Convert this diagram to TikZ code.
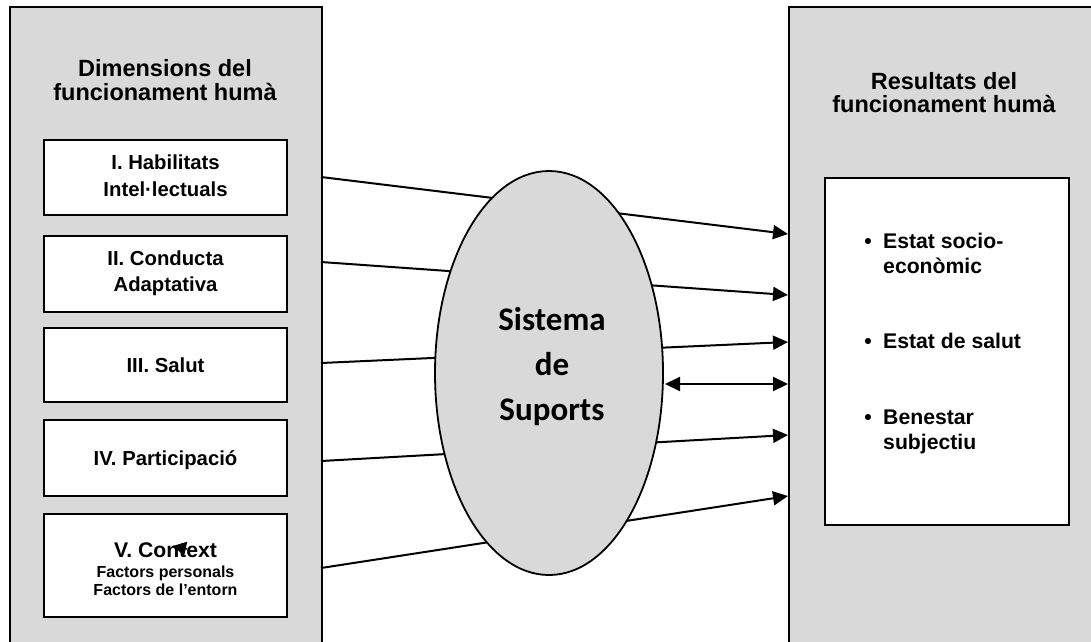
\documentclass[tikz,border=0pt]{standalone}
\usepackage{fontspec}
\setmainfont{Liberation Sans}
\newfontfamily\ellfont{Carlito}
\usetikzlibrary{arrows.meta,shapes.geometric}
\definecolor{panelgray}{HTML}{D9D9D9}
\begin{document}
\begin{tikzpicture}[x=1pt,y=-1pt,
  panel/.style={draw=black, fill=panelgray, line width=1.8pt, anchor=north west,
    inner sep=0pt, minimum width=312pt, minimum height=700pt},
  dimbox/.style={draw=black, fill=white, line width=1.8pt, inner sep=0pt, minimum width=243pt},
  resbox/.style={draw=black, fill=white, line width=1.8pt, anchor=north west, inner sep=0pt,
    minimum width=244pt, minimum height=347pt},
  title/.style={anchor=base, inner sep=0pt, font=\fontsize{23.5}{24}\selectfont\bfseries},
  boxtext/.style={anchor=base, inner sep=0pt, font=\fontsize{20.3}{24}\selectfont\bfseries},
  smalltext/.style={anchor=base, inner sep=0pt, font=\fontsize{16}{18}\selectfont\bfseries},
  bullettext/.style={anchor=base west, inner sep=0pt, font=\fontsize{21.2}{24}\selectfont\bfseries},
  dot/.style={anchor=base, inner sep=0pt, font=\fontsize{21.2}{24}\selectfont\bfseries},
  suptext/.style={anchor=base, inner sep=0pt, font=\fontsize{33}{40}\selectfont\ellfont\bfseries},
  conn/.style={line width=2pt, -{Triangle[length=15pt,width=14pt]}},
  biconn/.style={line width=2pt, {Triangle[length=15pt,width=14pt]}-{Triangle[length=15pt,width=14pt]}}
]
\clip (0,0) rectangle (1091,641);

% the two side panels
\node[panel] (lp) at (9,6) {};
\node[panel] (rp) at (788,6) {};

% the five dimensions
\node[dimbox, minimum height=75pt] (b1) at (165.5,177.5) {};
\node[dimbox, minimum height=76pt] (b2) at (165.5,274) {};
\node[dimbox, minimum height=74pt] (b3) at (165.5,365) {};
\node[dimbox, minimum height=76pt] (b4) at (165.5,458) {};
\node[dimbox, minimum height=103pt] (b5) at (165.5,565.5) {};

% the outcomes box
\node[resbox] (res) at (824,177) {};

% connectors between the panels
\coordinate (s1) at (321,177); \coordinate (e1) at (788,234);
\coordinate (s2) at (321,262); \coordinate (e2) at (788,295);
\coordinate (s3) at (321,363); \coordinate (e3) at (788,342);
\coordinate (s4) at (321,461); \coordinate (e4) at (788,435);
\coordinate (s5) at (321,568); \coordinate (e5) at (788,496);
\draw[conn] (s1) -- (e1);
\draw[conn] (s2) -- (e2);
\draw[conn] (s3) -- (e3);
\draw[conn] (s4) -- (e4);
\draw[conn] (s5) -- (e5);

% system of supports
\node[draw=black, fill=panelgray, line width=1.8pt, ellipse, inner sep=0pt,
  minimum width=228pt, minimum height=404pt] (sup) at (549,373) {};
\coordinate (d1) at (665,384); \coordinate (d2) at (788,384);
\draw[biconn] (d1) -- (d2);

% stray arrow head inside the context box
\coordinate (h1) at (187,549); \coordinate (h2) at (173,546);
\draw[line width=1.5pt, -{Triangle[length=13pt,width=14pt]}] (h1) -- (h2);

% texts
\node[title] (lt1) at (165,76) {Dimensions del};
\node[title] (lt2) at (165,100) {funcionament humà};
\node[title] (rt1) at (944,89) {Resultats del};
\node[title] (rt2) at (944,112) {funcionament humà};

\node[boxtext] (t1a) at (165.5,169) {I. Habilitats};
\node[boxtext] (t1b) at (165.5,196) {Intel·lectuals};
\node[boxtext] (t2a) at (165.5,265) {II. Conducta};
\node[boxtext] (t2b) at (165.5,291) {Adaptativa};
\node[boxtext] (t3) at (165.5,372) {III. Salut};
\node[boxtext] (t4) at (165.5,465) {IV. Participació};
\node[boxtext, font=\fontsize{21.2}{24}\selectfont\bfseries] (t5a) at (165.5,557) {V. Context};
\node[smalltext] (t5b) at (165.5,577) {Factors personals};
\node[smalltext] (t5c) at (165.5,595) {Factors de l’entorn};

\node[suptext] (st1) at (552,330) {Sistema};
\node[suptext] (st2) at (552,375) {de};
\node[suptext] (st3) at (552,420) {Suports};

\node[dot] (p1) at (868,248) {•};
\node[bullettext] (r1a) at (883,248) {Estat socio-};
\node[bullettext] (r1b) at (883,273) {econòmic};
\node[dot] (p2) at (868,348) {•};
\node[bullettext] (r2) at (883,348) {Estat de salut};
\node[dot] (p3) at (868,424) {•};
\node[bullettext] (r3a) at (883,424) {Benestar};
\node[bullettext] (r3b) at (883,449) {subjectiu};
\end{tikzpicture}
\end{document}
